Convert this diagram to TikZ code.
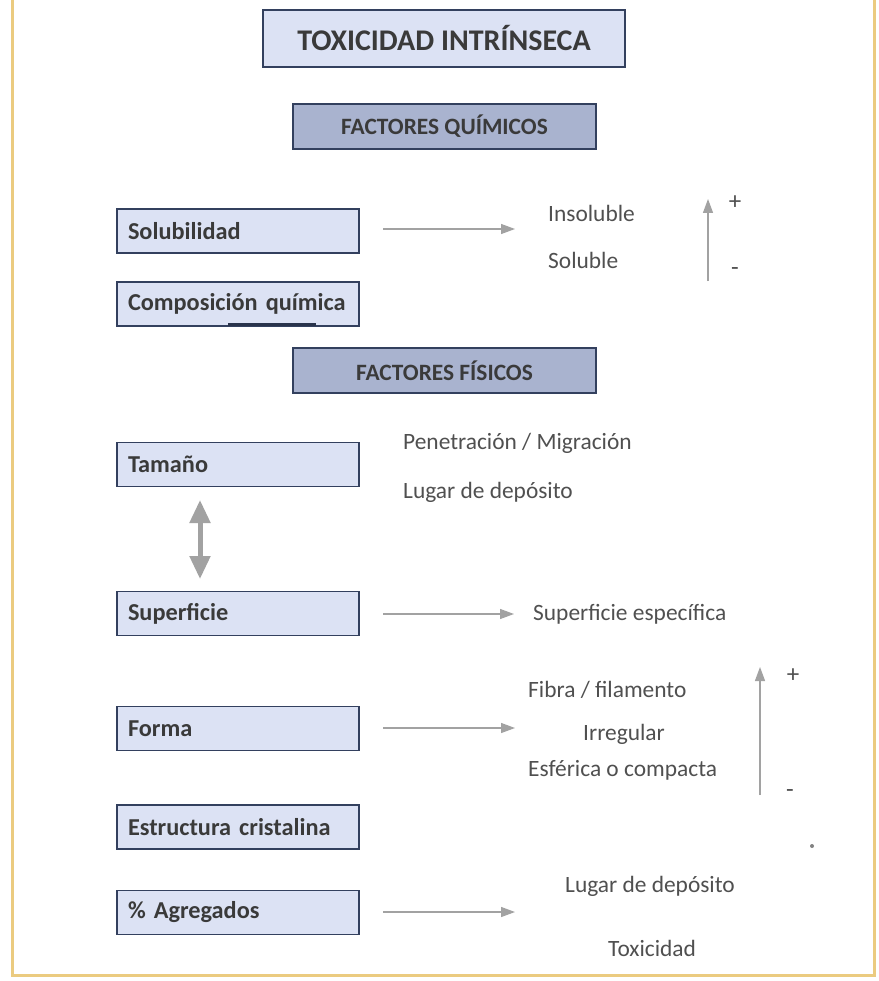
\documentclass[tikz,border=0pt]{standalone}
\usepackage{fontspec}
\setmainfont{Carlito}
\usetikzlibrary{arrows.meta}
\definecolor{boxfill}{HTML}{DCE2F4}
\definecolor{headfill}{HTML}{A9B3CF}
\definecolor{boxline}{HTML}{33405E}
\definecolor{txtdark}{HTML}{3A3A3A}
\definecolor{txtreg}{HTML}{505050}
\definecolor{arrgray}{HTML}{A2A2A2}
\definecolor{frameyel}{HTML}{EBCB80}
\tikzset{
  titlebox/.style={draw=boxline, line width=1.4pt, fill=boxfill, minimum width=362pt, minimum height=57pt, text=txtdark, font=\fontsize{30}{33}\selectfont\bfseries},
  headbox/.style={draw=boxline, line width=1.4pt, fill=headfill, minimum width=303pt, minimum height=45pt, text=txtdark, font=\fontsize{23.4}{26}\selectfont\bfseries},
  factbox/.style={draw=boxline, line width=1.4pt, fill=boxfill, text width=220pt, inner xsep=11pt, minimum height=44pt, align=left, text=txtdark, font=\fontsize{24.3}{27}\selectfont\bfseries},
  lbl/.style={anchor=west, inner sep=0pt, text=txtreg, font=\fontsize{23.4}{26}\selectfont},
  sign/.style={inner sep=0pt, text=txtreg, font=\fontsize{25}{27}\selectfont},
  thinarrow/.style={draw=arrgray, line width=1.2pt, -{Triangle[length=14pt,width=10pt]}},
}
\begin{document}
\begin{tikzpicture}[x=1pt,y=-1pt]
\useasboundingbox (0,0) rectangle (878,981);
\fill[white] (0,0) rectangle (878,981);
% frame
\draw[frameyel, line width=3pt] (12,0) -- (12,975) -- (874,975) -- (874,0);

% headers
\node[titlebox] (title) at (444,38.5) {TOXICIDAD INTRÍNSECA};
\node[headbox] (quim) at (444.5,126.5) {FACTORES QUÍMICOS};
\node[headbox] (fis) at (444.5,370.5) {FACTORES FÍSICOS};

% factor boxes
\node[factbox] (solub) at (238,231) {Solubilidad};
\node[factbox] (comp) at (238,304) {Composición química};
\node[factbox] (tam) at (238,464.5) {Tamaño};
\node[factbox] (sup) at (238,613.5) {Superficie};
\node[factbox] (forma) at (238,728.5) {Forma};
\node[factbox] (estr) at (238,827) {Estructura cristalina};
\node[factbox] (agr) at (238,912.5) {\% Agregados};
\draw[boxline!80!black, line width=2.5pt] (228,324.5) -- (316,324.5);

% labels
\node[lbl] (insol) at (548,213) {Insoluble};
\node[lbl] (sol) at (548,260) {Soluble};
\node[lbl] (pen) at (403,443) {Penetración / Migración};
\node[lbl] (lug1) at (403,492) {Lugar de depósito};
\node[lbl] (supesp) at (533,614) {Superficie específica};
\node[lbl] (fibra) at (528,690) {Fibra / filamento};
\node[lbl] (irr) at (583,734) {Irregular};
\node[lbl] (esf) at (528,770) {Esférica o compacta};
\node[lbl] (lug2) at (565,886) {Lugar de depósito};
\node[lbl] (toxi) at (608,948) {Toxicidad};

% horizontal arrows
\coordinate (a1s) at (383,229); \coordinate (a1e) at (515,229);
\coordinate (a2s) at (383,614); \coordinate (a2e) at (514,614);
\coordinate (a3s) at (383,728); \coordinate (a3e) at (515,728);
\coordinate (a4s) at (383,912); \coordinate (a4e) at (515,912);
\draw[thinarrow] (a1s) -- (a1e);
\draw[thinarrow] (a2s) -- (a2e);
\draw[thinarrow] (a3s) -- (a3e);
\draw[thinarrow] (a4s) -- (a4e);

% vertical scale arrows
\coordinate (v1s) at (708,281); \coordinate (v1e) at (708,199);
\draw[thinarrow] (v1s) -- (v1e);
\node[sign] (p1) at (735,203) {+};
\node[sign] (m1) at (735,272) {-};
\coordinate (v2s) at (760,795); \coordinate (v2e) at (760,667);
\draw[thinarrow] (v2s) -- (v2e);
\node[sign] (p2) at (793,676) {+};
\node[sign] (m2) at (790,794) {-};

% double arrow between Tamaño and Superficie
\coordinate (dtop) at (200,500);
\coordinate (dbot) at (200,579);
\draw[draw=arrgray, line width=5pt, {Triangle[length=23pt,width=20pt]}-{Triangle[length=23pt,width=20pt]}] (dtop) -- (dbot);

% stray dot
\fill[arrgray!80!black] (812,846) circle (2pt);
\end{tikzpicture}
\end{document}
